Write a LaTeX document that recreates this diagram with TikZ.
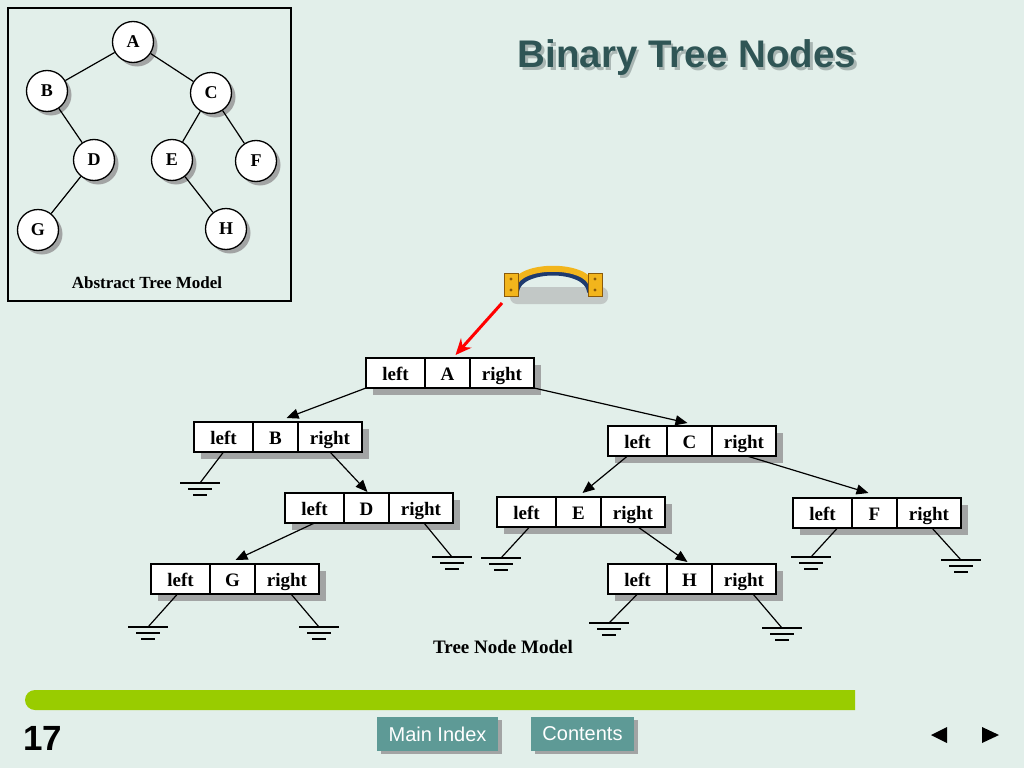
\documentclass[tikz,border=0pt]{standalone}
\usepackage{fontspec}
\setmainfont{Liberation Serif}
\newfontfamily\sansf{Liberation Sans}
\usetikzlibrary{arrows.meta,shadows,calc}
\definecolor{bg}{HTML}{E2EFEA}
\definecolor{titlec}{HTML}{2F5555}
\definecolor{titlesh}{HTML}{A9B6B3}
\definecolor{shadowc}{HTML}{A2A4A4}
\definecolor{btn}{HTML}{5E9A96}
\definecolor{barg}{HTML}{99CC00}
\definecolor{gold}{HTML}{F2B51C}
\definecolor{golddk}{HTML}{8A5A0A}
\definecolor{navyc}{HTML}{1E3A6E}
\definecolor{hshadow}{HTML}{C2C8C6}

\newcommand\tnbox[4]{%
  \fill[shadowc] (#2+7,#3+7) rectangle (#2+175,#3+37);
  \node[cell,minimum width=59pt,anchor=north west] (#1-l) at (#2,#3) {left};
  \node[cell,minimum width=45pt,anchor=north west] (#1-c) at (#1-l.north east) {#4};
  \node[cell,minimum width=64pt,anchor=north west] (#1-r) at (#1-c.north east) {right};}

\newcommand\gnd[3]{%
  \coordinate (#1) at (#2,#3);
  \draw[gline] (#2-20,#3) -- (#2+20,#3)
               (#2-12,#3+6) -- (#2+12,#3+6)
               (#2-7,#3+12) -- (#2+7,#3+12);}

\begin{document}
\begin{tikzpicture}[x=1pt,y=-1pt,
  cell/.style={draw,line width=1.6pt,fill=white,outer sep=0pt,inner sep=0pt,
    minimum height=30pt,text height=15pt,text depth=0pt,
    font=\bfseries\fontsize{19}{19}\selectfont},
  circ/.style={circle,draw,line width=1.3pt,fill=white,minimum size=41pt,inner sep=0pt,
    font=\bfseries\fontsize{18}{18}\selectfont,
    drop shadow={shadow xshift=4pt,shadow yshift=-4pt,fill=shadowc,opacity=1}},
  tedge/.style={line width=1.2pt},
  arr/.style={line width=1.2pt,-{Triangle[length=12pt,width=10pt]}},
  gline/.style={line width=1.3pt},
  gconn/.style={line width=1.2pt},
  btnst/.style={fill=btn,text=white,inner sep=0pt,outer sep=0pt,
    font=\sansf\fontsize{20}{20}\selectfont},
  lbl/.style={font=\bfseries\fontsize{#1}{#1}\selectfont}]

\useasboundingbox (0,0) rectangle (1024,768);
\fill[bg] (0,0) rectangle (1024,768);

% ---------- abstract tree ----------
\draw[line width=1.2pt] (8,8) rectangle (291,301);
\node[circ] (aA) at (133,42) {A};
\node[circ] (aB) at (47,91) {B};
\node[circ] (aC) at (211,93) {C};
\node[circ] (aD) at (94,160) {D};
\node[circ] (aE) at (172,160) {E};
\node[circ] (aF) at (256,161) {F};
\node[circ] (aG) at (38,230) {G};
\node[circ] (aH) at (226,229) {H};
\draw[tedge] (aA) -- (aB);
\draw[tedge] (aA) -- (aC);
\draw[tedge] (aB) -- (aD);
\draw[tedge] (aC) -- (aE);
\draw[tedge] (aC) -- (aF);
\draw[tedge] (aD) -- (aG);
\draw[tedge] (aE) -- (aH);
\node[lbl=17] (absl) at (147,283) {Abstract Tree Model};

% ---------- title ----------
\node[font=\sansf\bfseries\fontsize{38.5}{38.5}\selectfont,text=titlesh] (titlesh) at (689.5,60.5) {Binary Tree Nodes};
\node[font=\sansf\bfseries\fontsize{38.5}{38.5}\selectfont,text=titlec] (title) at (687,58) {Binary Tree Nodes};

% ---------- handle ----------
\fill[hshadow,rounded corners=7pt] (510,287) rectangle (608,304);
\draw[navyc,line width=8pt,line cap=round] (515,291) .. controls (518,265) and (588,265) .. (591,291);
\draw[gold,line width=6pt,line cap=round] (514,286) .. controls (518,263) and (588,263) .. (592,286);
\fill[gold,draw=golddk,line width=0.8pt] (504,273) rectangle (518,296);
\fill[gold,draw=golddk,line width=0.8pt] (588,273) rectangle (602,296);
\fill[golddk] (511,279) circle (1.6) (511,290) circle (1.6) (595,279) circle (1.6) (595,290) circle (1.6);
\coordinate (hand) at (502,303);

% ---------- tree node model ----------
\tnbox{nA}{366}{358}{A}
\tnbox{nB}{194}{422}{B}
\tnbox{nC}{608}{426}{C}
\tnbox{nD}{285}{493}{D}
\tnbox{nE}{497}{497}{E}
\tnbox{nF}{793}{498}{F}
\tnbox{nG}{151}{564}{G}
\tnbox{nH}{608}{564}{H}

\draw[red,line width=3pt,-{Stealth[length=16pt,width=14pt]}] (hand) -- ([xshift=8pt,yshift=3pt]nA-c.north);

\draw[arr] (nA-l.south west) -- ([xshift=11pt,yshift=4pt]nB-c.north);
\draw[arr] (nA-r.south east) -- ([xshift=-2pt,yshift=3pt]nC-c.north);
\draw[arr] (nB-r.south) -- ([xshift=1pt,yshift=1pt]nD-c.north);
\draw[arr] ([xshift=-10pt]nC-l.south) -- ([xshift=4pt,yshift=4pt]nE-c.north);
\draw[arr] ([xshift=3pt]nC-r.south) -- ([xshift=-6pt,yshift=5pt]nF-c.north);
\draw[arr] (nD-l.south) -- ([xshift=3pt,yshift=4pt]nG-c.north);
\draw[arr] ([xshift=5pt]nE-r.south) -- ([xshift=-2pt,yshift=2pt]nH-c.north);

% grounds
\gnd{gBl}{200}{483}
\gnd{gDr}{452}{557}
\gnd{gEl}{501}{558}
\gnd{gFl}{811}{557}
\gnd{gFr}{961}{560}
\gnd{gGl}{148}{627}
\gnd{gGr}{319}{627}
\gnd{gHl}{609}{623}
\gnd{gHr}{782}{628}
\draw[gconn] (nB-l.south) -- (gBl);
\draw[gconn] ([xshift=3pt]nD-r.south) -- (gDr);
\draw[gconn] ([xshift=3pt]nE-l.south) -- (gEl);
\draw[gconn] ([xshift=15pt]nF-l.south) -- (gFl);
\draw[gconn] ([xshift=3pt]nF-r.south) -- (gFr);
\draw[gconn] ([xshift=-3pt]nG-l.south) -- (gGl);
\draw[gconn] ([xshift=4pt]nG-r.south) -- (gGr);
\draw[gconn] (nH-l.south) -- (gHl);
\draw[gconn] ([xshift=9pt]nH-r.south) -- (gHr);

\node[lbl=19] (tnm) at (503,647) {Tree Node Model};

% ---------- footer ----------
\fill[barg] (855,690) -- (35,690) arc[start angle=270,end angle=90,radius=10] -- (855,710) -- cycle;
\node[font=\sansf\bfseries\fontsize{35}{35}\selectfont] (pnum) at (43,738) {17};
\fill[shadowc] (381,720) rectangle (502,754);
\node[btnst,minimum width=121pt,minimum height=34pt,anchor=north west] (mainidx) at (377,717) {Main Index};
\fill[shadowc] (535,720) rectangle (638,754);
\node[btnst,minimum width=103pt,minimum height=34pt,anchor=north west] (contents) at (531,717) {Contents};
\fill (931,735) -- (947,727) -- (947,743) -- cycle;
\fill (999,735) -- (982,727) -- (982,743) -- cycle;
\end{tikzpicture}
\end{document}
